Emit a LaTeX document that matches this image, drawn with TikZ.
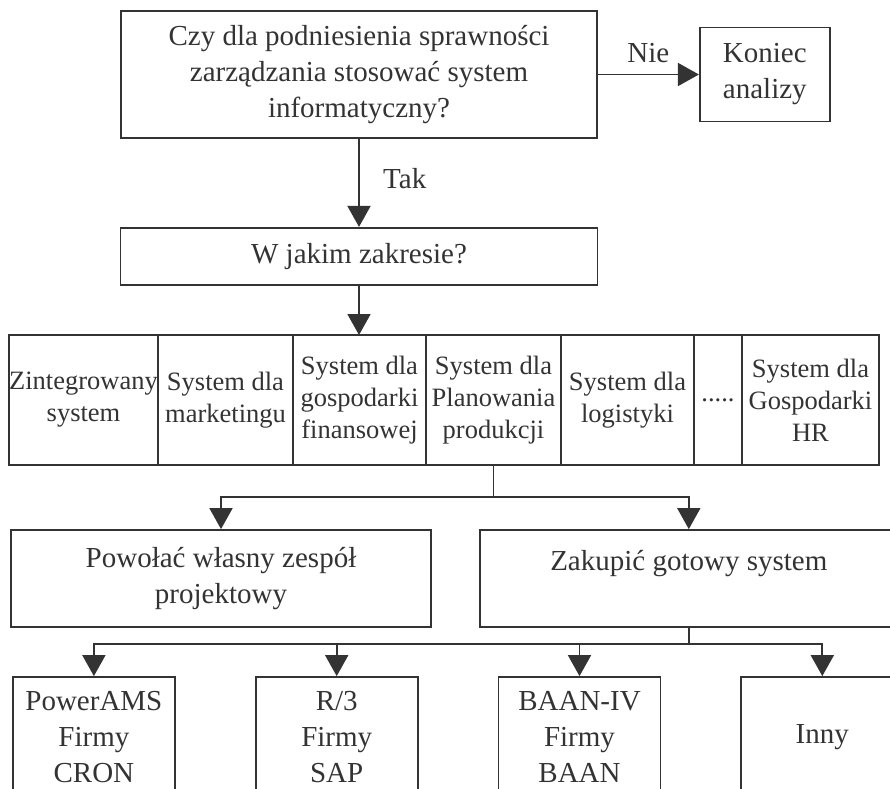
\documentclass[tikz,border=0pt]{standalone}
\usepackage{fontspec}
\setmainfont{Liberation Serif}
\usetikzlibrary{calc,shapes,arrows.meta,chains,positioning}
\definecolor{ink}{gray}{0.2}

\begin{document}
\begin{tikzpicture}[x=1pt,y=-1pt,color=ink,line width=1.8pt,
  font=\fontsize{29}{36}\selectfont,
  box/.style={draw,align=center,inner sep=0pt},
  cell/.style={draw,align=center,inner sep=0pt,outer sep=0pt,minimum height=130pt,
    font=\fontsize{26.5}{32}\selectfont},
  arr/.style={-{Triangle[length=21pt,width=23pt]}}]

\useasboundingbox (0,0) rectangle (890,788);
\clip (0,0) rectangle (890,788);

\node [box,minimum width=476pt,minimum height=127pt] (q) at (359,74.5)
  {Czy dla podniesienia sprawności\\zarządzania stosować system\\informatyczny?};
\node [box,minimum width=130pt,minimum height=94pt,right=101pt of q] (end) {Koniec\\analizy};
\node [box,minimum width=477pt,minimum height=57pt,below=88pt of q] (zakres) {W jakim zakresie?};

\begin{scope}[shift={(9,400)},start chain=going right,node distance=0pt]
\def\obszary{1/149pt/{Zintegrowany\\system},2/135pt/{System dla\\marketingu},
  3/133pt/{System dla\\gospodarki\\finansowej},4/135pt/{System dla\\Planowania\\produkcji},
  5/133pt/{System dla\\logistyki},6/48pt/{.....},7/137pt/{System dla\\Gospodarki\\HR}}
\foreach \i / \w / \element in \obszary
  \node [cell,anchor=west,on chain,minimum width=\w] (e\i) {\element};
\end{scope}

\node [box,minimum width=420pt,minimum height=97pt] (powolac) at (221,578.5)
  {Powołać własny zespół\\projektowy};
\node [box,minimum width=418pt,minimum height=97pt,right=47pt of powolac] (zakup)
  {Zakupić gotowy system\\\mbox{}};

\begin{scope}[shift={(12,737)},start chain=going right,node distance=79pt]
\def\systemy{1/{PowerAMS\\Firmy\\CRON},2/{R/3\\Firmy\\SAP},3/{BAAN-IV\\Firmy\\BAAN},4/{Inny}}
\foreach \i / \element in \systemy
  \node [box,anchor=west,on chain,minimum width=162pt,minimum height=120pt] (s\i) {\element};
\end{scope}

% connectors
\draw [arr] (q) -- node [above=7pt] {Nie} (end);
\draw [arr] (q) -- node [right=20pt,pos=0.45] {Tak} (zakres);
\draw [arr] (zakres) -- (zakres |- e3.north);
\draw (e4.south) -- ++(0,32) coordinate (rozw1);
\draw [arr] (rozw1) -| (powolac);
\draw [arr] (rozw1) -| (zakup);
\draw (zakup.south) -- ++(0,16) coordinate (rozw2);
\foreach \i in {1,...,4}
  \draw [arr] (rozw2) -| (s\i);

\end{tikzpicture}
\end{document}
